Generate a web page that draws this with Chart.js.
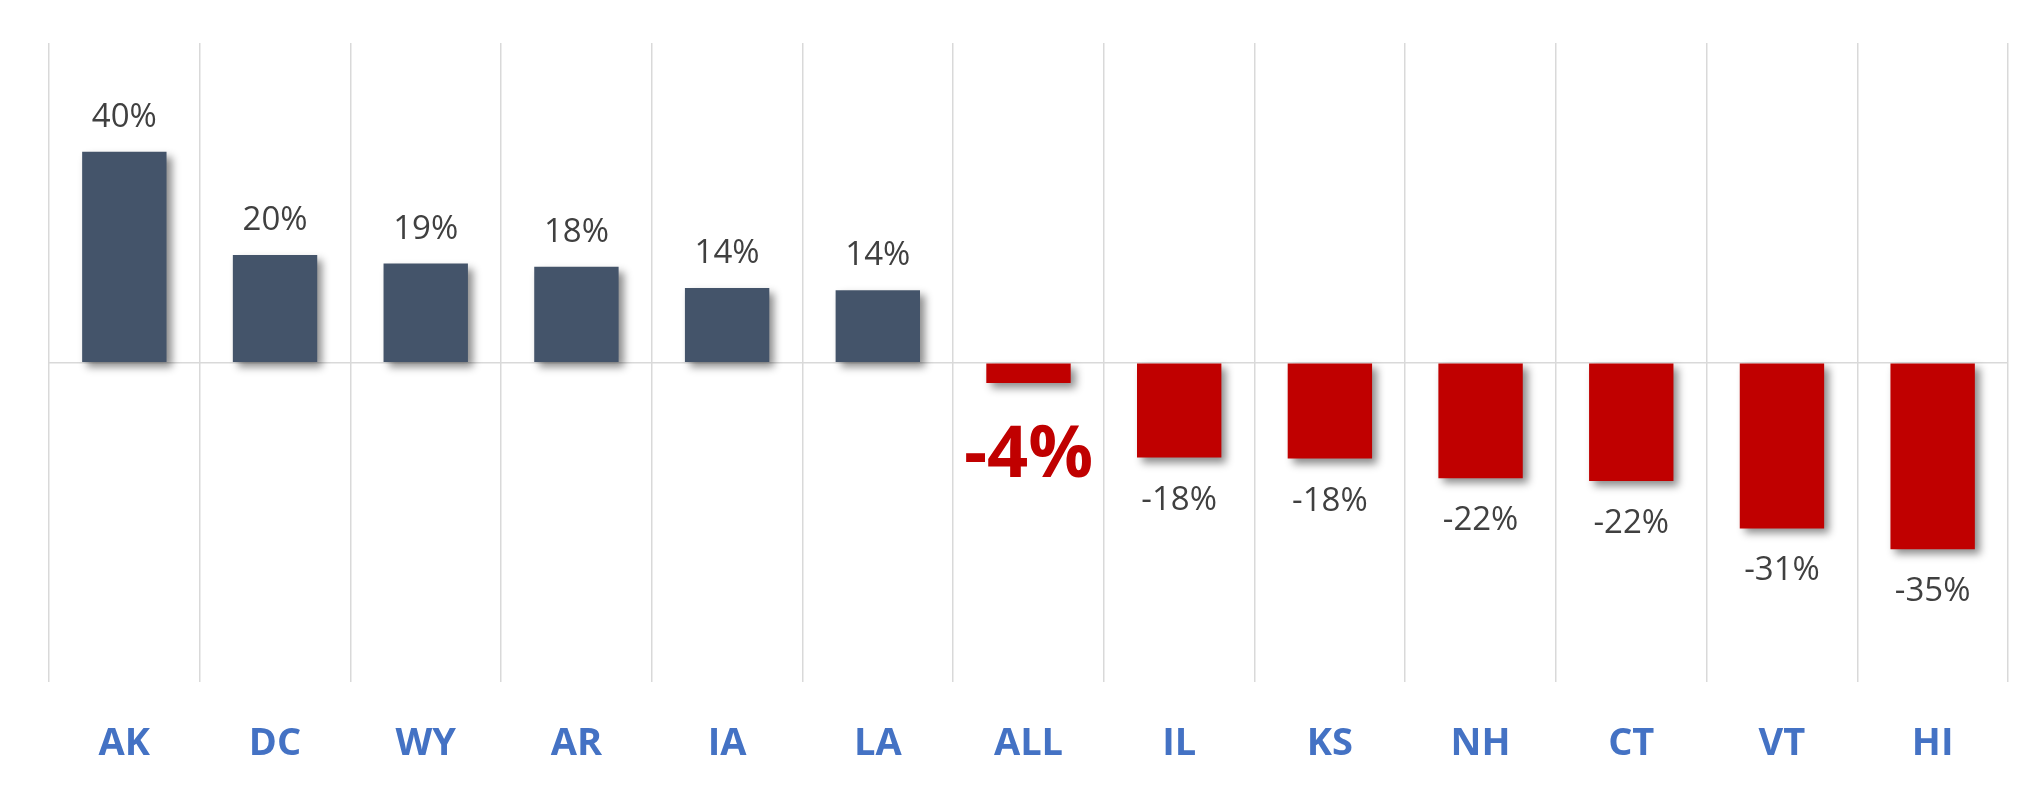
<!DOCTYPE html>
<html>
<head>
<meta charset="utf-8">
<script src="https://cdn.jsdelivr.net/npm/chart.js"></script>
<style>
  html, body { margin: 0; padding: 0; background: #fff; }
  #wrap { width: 2039px; height: 785px; }
</style>
</head>
<body>
<div id="wrap"><canvas id="chart"></canvas></div>
<script>
const etats = ['AK', 'DC', 'WY', 'AR', 'IA', 'LA', 'ALL', 'IL', 'KS', 'NH', 'CT', 'VT', 'HI'];
const variations = [39.6, 20.2, 18.6, 18.0, 14.0, 13.6, -3.8, -17.8, -18.0, -21.7, -22.2, -31.1, -35.0];
const yMin = -60;
const yMax = 60;

const bleu = '#44546A';
const rouge = '#C00000';

// ombre portee sous les barres, facon Excel
const ombrePlugin = {
  id: 'ombre',
  beforeDatasetsDraw(chart) {
    const ctx = chart.ctx;
    ctx.save();
    ctx.shadowColor = 'rgba(0,0,0,0.45)';
    ctx.shadowBlur = 8;
    ctx.shadowOffsetX = 5;
    ctx.shadowOffsetY = 5;
  },
  afterDatasetsDraw(chart) {
    chart.ctx.restore();
  }
};

// etiquettes de valeur au bout des barres
const etiquettesPlugin = {
  id: 'etiquettes',
  afterDraw(chart) {
    const ctx = chart.ctx;
    const meta = chart.getDatasetMeta(0);
    ctx.save();
    ctx.textAlign = 'center';
    ctx.textBaseline = 'alphabetic';
    meta.data.forEach((barre, i) => {
      const v = variations[i];
      const texte = Math.round(v) + '%';
      if (etats[i] === 'ALL') {
        ctx.font = 'bold 72px "Open Sans"';
        ctx.fillStyle = rouge;
        ctx.fillText(texte, barre.x, barre.y + 94);
      } else {
        ctx.font = '33px "Open Sans"';
        ctx.fillStyle = '#404040';
        if (v >= 0) {
          ctx.fillText(texte, barre.x, barre.y - 25);
        } else {
          ctx.fillText(texte, barre.x, barre.y + 52);
        }
      }
    });
    ctx.restore();
  }
};

new Chart(document.getElementById('chart'), {
  type: 'bar',
  data: {
    labels: etats,
    datasets: [{
      data: variations,
      backgroundColor: variations.map(v => v >= 0 ? bleu : rouge),
      borderWidth: 0,
      barPercentage: 0.56,
      categoryPercentage: 1
    }]
  },
  options: {
    responsive: true,
    maintainAspectRatio: false,
    animation: false,
    layout: {
      padding: { left: 49, right: 31, top: 43, bottom: -20 }
    },
    plugins: {
      legend: { display: false },
      tooltip: { enabled: false }
    },
    scales: {
      x: {
        grid: { color: '#d9d9d9', lineWidth: 1.5, drawTicks: false, offset: true },
        border: { display: false },
        ticks: {
          padding: 38.5,
          color: '#4472C4',
          font: { family: '"Open Sans"', size: 38, weight: 'bold' }
        }
      },
      y: {
        min: yMin,
        max: yMax,
        ticks: { display: false, stepSize: 60 },
        grid: {
          drawTicks: false,
          lineWidth: 1.5,
          color: ctx => ctx.tick && ctx.tick.value === 0 ? '#d9d9d9' : 'rgba(0,0,0,0)'
        },
        border: { display: false }
      }
    }
  },
  plugins: [ombrePlugin, etiquettesPlugin]
});
</script>
</body>
</html>
